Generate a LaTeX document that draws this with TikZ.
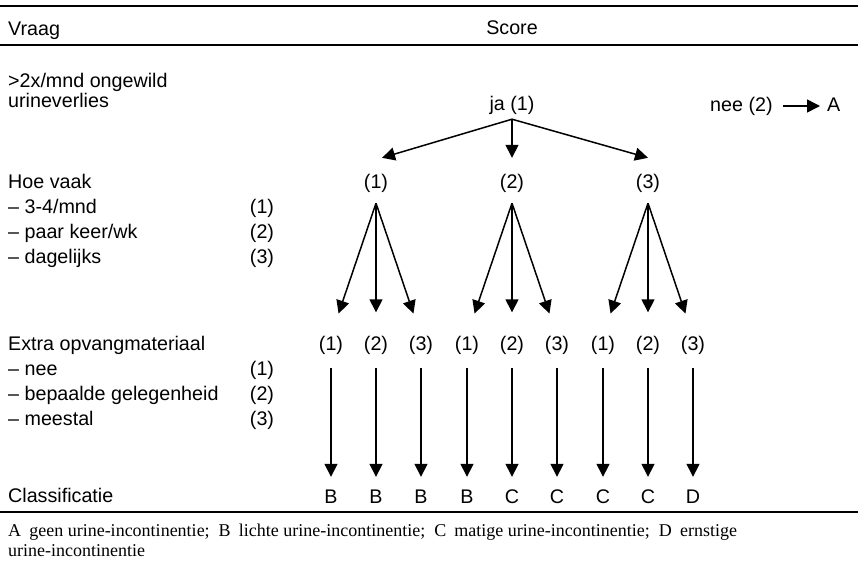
\documentclass[tikz,border=0pt]{standalone}
\usepackage{fontspec}
\setmainfont{Liberation Sans}
\newfontfamily\noteserif{Liberation Serif}
\usetikzlibrary{arrows.meta}
\begin{document}
\begin{tikzpicture}[x=1pt,y=-1pt,
  txt/.style={inner sep=0pt, text height=14pt, text depth=4pt, font=\fontsize{19.7}{23}\selectfont},
  lft/.style={txt, anchor=west},
  arr/.style={-{Triangle[length=13pt,width=13pt]}, line width=1.5pt},
  rulethick/.style={line width=2pt},
  rulethin/.style={line width=1.4pt},
  note/.style={anchor=west, inner sep=0pt, font=\noteserif\fontsize{18}{20}\selectfont}]
\useasboundingbox (0,0) rectangle (858,560);
% rules
\draw[rulethick] (0,6) -- (858,6);
\draw[rulethin] (0,45) -- (858,45);
\draw[rulethick] (0,512) -- (858,512);
% header
\node[lft] (vraag) at (8,30) {Vraag};
\node[txt] (score) at (512,29) {Score};
% question 1
\node[lft] (q1a) at (8,82) {>2x/mnd ongewild};
\node[lft] (q1b) at (8,102) {urineverlies};
\node[txt] (ja) at (512,105) {ja (1)};
\node[lft] (nee) at (710,106) {nee (2)};
\node[lft] (A) at (827,106) {A};
\draw[arr, shorten <=10pt, shorten >=7pt] (nee.east) -- (A.west);
% question 2
\node[lft] (q2) at (8,183) {Hoe vaak};
\node[lft] (q2a) at (8,208) {– 3-4/mnd};
\node[lft] (q2b) at (8,233) {– paar keer/wk};
\node[lft] (q2c) at (8,258) {– dagelijks};
\node[txt] (s2a) at (262,208) {(1)};
\node[txt] (s2b) at (262,233) {(2)};
\node[txt] (s2c) at (262,258) {(3)};
\node[txt] (f1) at (376,183) {(1)};
\node[txt] (f2) at (512,183) {(2)};
\node[txt] (f3) at (648,183) {(3)};
\draw[arr] ([yshift=-5pt]ja.south) -- ([xshift=6pt,yshift=16pt]f1.north);
\draw[arr] ([yshift=-5pt]ja.south) -- ([yshift=16pt]f2.north);
\draw[arr] ([yshift=-5pt]ja.south) -- ([yshift=16pt]f3.north);
% question 3
\node[lft] (q3) at (8,345) {Extra opvangmateriaal};
\node[lft] (q3a) at (8,370) {– nee};
\node[lft] (q3b) at (8,395) {– bepaalde gelegenheid};
\node[lft] (q3c) at (8,420) {– meestal};
\node[txt] (s3a) at (262,370) {(1)};
\node[txt] (s3b) at (262,395) {(2)};
\node[txt] (s3c) at (262,420) {(3)};
\foreach \i/\x/\n/\k in {1/331/1/B, 2/376/2/B, 3/421/3/B, 4/467/1/B, 5/512/2/C, 6/557/3/C, 7/603/1/C, 8/648/2/C, 9/693/3/D} {
  \node[txt] (c\i) at (\x,345) {(\n)};
  \node[txt] (k\i) at (\x,498) {\k};
  \draw[arr, shorten <=14pt, shorten >=12pt] (c\i.south) -- (k\i.north);
}
\foreach \f/\a/\b/\c in {1/1/2/3, 2/4/5/6, 3/7/8/9} {
  \foreach \k in {\a,\b,\c}
    \draw[arr, shorten >=23.5pt] ([yshift=-11pt]f\f.south) -- (c\k.north);
}
% classification
\node[lft] (cls) at (8,497) {Classificatie};
% footnote
\node[note] (n1) at (8,532) {A\hspace{0.45em}geen urine-incontinentie;\hspace{0.5em}B\hspace{0.45em}lichte urine-incontinentie;\hspace{0.5em}C\hspace{0.45em}matige urine-incontinentie;\hspace{0.5em}D\hspace{0.45em}ernstige};
\node[note] (n2) at (8,551) {urine-incontinentie};
\end{tikzpicture}
\end{document}
